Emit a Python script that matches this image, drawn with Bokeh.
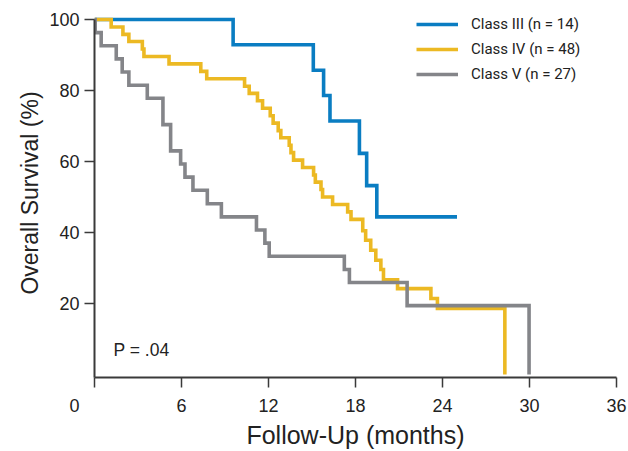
from bokeh.plotting import figure
from bokeh.models import Range1d, Legend, LegendItem, Label, FixedTicker
from bokeh.embed import file_html
from bokeh.resources import INLINE

# Class III (n = 14)
t_iii = [0, 9.56, 15.09, 15.80, 16.24, 18.27, 18.77, 19.47, 25.0]
s_iii = [100, 92.9, 85.7, 78.6, 71.4, 62.3, 53.2, 44.4, 44.4]

# Class IV (n = 48)
t_iv = [0, 1.15, 1.96, 2.37, 3.30, 3.41, 5.14, 7.33, 7.74, 10.35, 10.67, 11.24,
        11.59, 12.12, 12.32, 12.67, 12.85, 13.43, 13.55, 13.73, 14.35, 15.11,
        15.23, 15.62, 15.73, 16.42, 17.46, 17.69, 18.50, 18.70, 19.05, 19.40,
        19.75, 19.93, 20.90, 23.20, 23.65, 28.30]
s_iv = [100, 97.9, 95.8, 93.8, 91.7, 89.6, 87.5, 85.4, 83.3, 81.2, 79.2, 77.1,
        75.0, 72.9, 70.8, 68.7, 66.7, 64.6, 62.5, 60.4, 58.3, 56.2,
        54.2, 52.1, 50.0, 47.9, 45.8, 43.7, 40.5, 37.8, 35.0, 32.2,
        29.6, 26.7, 24.2, 21.4, 18.6, 0]

# Class V (n = 27)
t_v = [0, 0.05, 0.46, 1.50, 1.91, 2.37, 3.64, 4.72, 5.25, 5.94, 6.24, 6.79,
       7.78, 8.75, 11.17, 11.75, 12.05, 17.23, 17.58, 21.56, 29.97]
s_v = [100, 96.3, 92.6, 88.9, 85.2, 81.5, 77.8, 70.4, 63.0, 59.3, 55.6, 51.9,
       48.1, 44.4, 40.7, 37.0, 33.3, 29.6, 25.9, 19.4, 0]

series_names = ["Class III (n = 14)", "Class IV (n = 48)", "Class V (n = 27)"]
series_colors = ["#0a7dc2", "#ecb923", "#848589"]

x_ticks = [0, 6, 12, 18, 24, 30, 36]
y_ticks = [20, 40, 60, 80, 100]

FONT = "Liberation Sans"
NB = "\u00a0"

p = figure(width=628, height=451, output_backend="svg", toolbar_location=None,
           x_range=Range1d(0, 36), y_range=Range1d(-0.84, 103.1),
           min_border_left=94, min_border_right=12, min_border_top=8,
           min_border_bottom=74)
p.outline_line_color = None
p.xgrid.visible = False
p.ygrid.visible = False
p.background_fill_color = "white"

renderers = []
for t, s, c in zip([t_iii, t_iv, t_v], [s_iii, s_iv, s_v], series_colors):
    r = p.step(t, s, mode="after", line_color=c, line_width=3.6, line_join="miter")
    renderers.append(r)

for ax in (p.xaxis[0], p.yaxis[0]):
    ax.axis_line_color = "#3a3a3a"
    ax.axis_line_width = 2
    ax.major_tick_line_color = "#3a3a3a"
    ax.major_tick_line_width = 1.5
    ax.major_tick_in = 0
    ax.major_tick_out = 10
    ax.minor_tick_line_color = None
    ax.major_label_text_font = FONT
    ax.major_label_text_font_size = "18px"
    ax.major_label_text_color = "#222222"
    ax.axis_label_text_font = FONT
    ax.axis_label_text_font_style = "normal"
    ax.axis_label_text_color = "#222222"

p.xaxis.ticker = FixedTicker(ticks=x_ticks)
p.yaxis.ticker = FixedTicker(ticks=y_ticks)
p.xaxis.major_label_overrides = {0: "0" + NB * 8}
p.xaxis.bounds = (0, 36)
p.yaxis.bounds = (-0.84, 100)
p.xaxis.major_label_standoff = 8
p.yaxis.major_label_standoff = 5
p.xaxis.axis_label = "Follow-Up (months)"
p.yaxis.axis_label = "Overall Survival (%)"
p.xaxis.axis_label_text_font_size = "25px"
p.yaxis.axis_label_text_font_size = "23px"
p.xaxis.axis_label_standoff = 2
p.yaxis.axis_label_standoff = 3

p.add_layout(Label(x=1.31, y=6.8, text="P = .04", text_font=FONT, text_font_size="17.5px",
                   text_color="#222222", text_align="left", text_baseline="middle"))

legend = Legend(items=[LegendItem(label=n, renderers=[r]) for n, r in zip(series_names, renderers)],
                location=(322, 293), glyph_width=42, glyph_height=20, label_height=20,
                spacing=5, padding=0, margin=0, label_standoff=13,
                label_text_font="Roboto", label_text_font_size="15px",
                label_text_color="#222222", border_line_color=None,
                background_fill_alpha=0)
p.add_layout(legend, "center")

open("out.html", "w").write(file_html(p, INLINE))
